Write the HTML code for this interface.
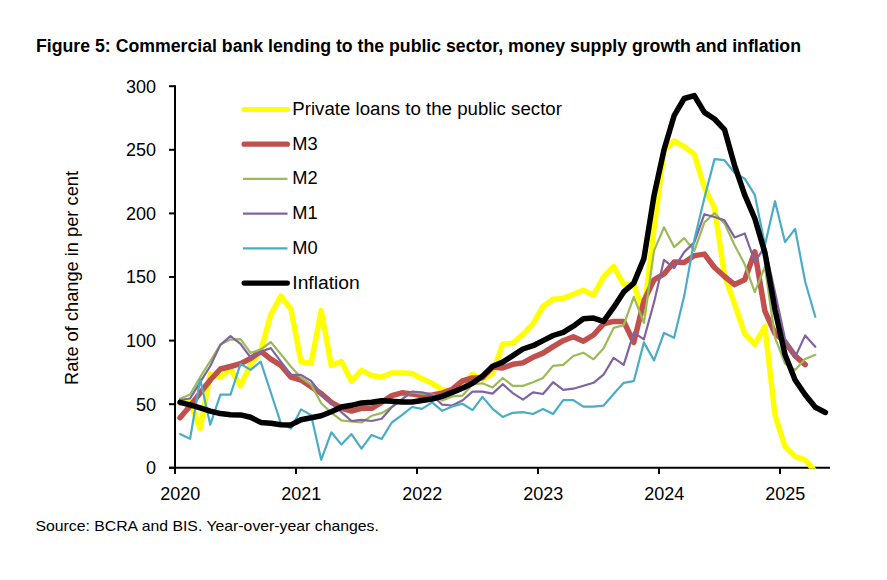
<!DOCTYPE html>
<html><head><meta charset="utf-8"><style>
html,body{margin:0;padding:0;background:#fff;}
body{width:887px;height:580px;overflow:hidden;position:relative;font-family:"Liberation Sans",sans-serif;}
svg{position:absolute;left:0;top:0;}
.tk{font-size:18px;fill:#000;}
.lg{font-size:18px;fill:#000;}
.ti{font-size:17.5px;font-weight:bold;fill:#000;}
.src{font-size:15px;fill:#000;}
.yt{font-size:17.5px;fill:#000;}
</style></head><body>
<svg width="887" height="580" viewBox="0 0 887 580">
<text x="36" y="51.6" class="ti" textLength="765" lengthAdjust="spacingAndGlyphs">Figure 5: Commercial bank lending to the public sector, money supply growth and inflation</text>
<text x="35.4" y="531" class="src" textLength="343.5" lengthAdjust="spacingAndGlyphs">Source: BCRA and BIS. Year-over-year changes.</text>
<text transform="translate(77.8,385) rotate(-90)" x="0" y="0" class="yt" textLength="214" lengthAdjust="spacingAndGlyphs">Rate of change in per cent</text>
<line x1="175" y1="85.2" x2="175" y2="468.8" stroke="#000" stroke-width="2"/>
<line x1="169" y1="467.8" x2="830" y2="467.8" stroke="#000" stroke-width="2"/>
<line x1="169" y1="467.8" x2="175" y2="467.8" stroke="#000" stroke-width="2"/><text x="156" y="474.1" text-anchor="end" class="tk">0</text><line x1="169" y1="404.2" x2="175" y2="404.2" stroke="#000" stroke-width="2"/><text x="156" y="410.5" text-anchor="end" class="tk">50</text><line x1="169" y1="340.6" x2="175" y2="340.6" stroke="#000" stroke-width="2"/><text x="156" y="346.9" text-anchor="end" class="tk">100</text><line x1="169" y1="277.0" x2="175" y2="277.0" stroke="#000" stroke-width="2"/><text x="156" y="283.3" text-anchor="end" class="tk">150</text><line x1="169" y1="213.4" x2="175" y2="213.4" stroke="#000" stroke-width="2"/><text x="156" y="219.7" text-anchor="end" class="tk">200</text><line x1="169" y1="149.8" x2="175" y2="149.8" stroke="#000" stroke-width="2"/><text x="156" y="156.1" text-anchor="end" class="tk">250</text><line x1="169" y1="86.2" x2="175" y2="86.2" stroke="#000" stroke-width="2"/><text x="156" y="92.5" text-anchor="end" class="tk">300</text>
<line x1="175.0" y1="467.8" x2="175.0" y2="474" stroke="#000" stroke-width="2"/><text x="180.2" y="500" text-anchor="middle" class="tk">2020</text><line x1="296.0" y1="467.8" x2="296.0" y2="474" stroke="#000" stroke-width="2"/><text x="301.2" y="500" text-anchor="middle" class="tk">2021</text><line x1="417.0" y1="467.8" x2="417.0" y2="474" stroke="#000" stroke-width="2"/><text x="422.2" y="500" text-anchor="middle" class="tk">2022</text><line x1="538.0" y1="467.8" x2="538.0" y2="474" stroke="#000" stroke-width="2"/><text x="543.2" y="500" text-anchor="middle" class="tk">2023</text><line x1="659.0" y1="467.8" x2="659.0" y2="474" stroke="#000" stroke-width="2"/><text x="664.2" y="500" text-anchor="middle" class="tk">2024</text><line x1="780.0" y1="467.8" x2="780.0" y2="474" stroke="#000" stroke-width="2"/><text x="785.2" y="500" text-anchor="middle" class="tk">2025</text>
<defs><clipPath id="pa"><rect x="176" y="60" width="700" height="408.8"/></clipPath></defs>
<g clip-path="url(#pa)">
<path d="M180.0,403.4 L190.1,401.9 L200.2,428.4 L210.3,374.1 L220.4,377.1 L230.5,369.0 L240.5,385.9 L250.6,364.6 L260.7,351.2 L270.8,314.5 L280.9,296.2 L291.0,309.3 L301.0,361.8 L311.1,363.4 L321.2,310.6 L331.3,365.4 L341.4,361.6 L351.5,381.3 L361.5,370.4 L371.6,375.5 L381.7,377.0 L391.8,373.0 L401.9,372.9 L412.0,373.4 L422.0,378.8 L432.1,383.2 L442.2,389.8 L452.3,390.8 L462.4,385.1 L472.5,374.4 L482.5,379.3 L492.6,373.5 L502.7,344.2 L512.8,343.3 L522.9,334.4 L533.0,323.8 L543.0,306.5 L553.1,299.3 L563.2,298.4 L573.3,294.3 L583.4,290.2 L593.5,295.2 L603.5,277.1 L613.6,266.4 L623.7,284.5 L633.8,284.5 L643.9,313.1 L654.0,228.7 L664.0,150.8 L674.1,141.0 L684.2,146.7 L694.3,154.1 L704.4,187.5 L714.5,207.9 L724.5,275.0 L734.6,304.2 L744.7,333.7 L754.8,344.4 L764.9,326.5 L775.0,415.0 L785.0,446.6 L795.1,456.6 L805.2,459.9 L815.3,471.6" stroke="#FFFF00" stroke-width="5.5" fill="none" stroke-linejoin="round" stroke-linecap="round"/>
<path d="M180.0,417.8 L190.1,406.0 L200.2,392.8 L210.3,380.0 L220.4,369.0 L230.5,366.5 L240.5,363.6 L250.6,358.5 L260.7,351.2 L270.8,359.2 L280.9,365.4 L291.0,377.1 L301.0,380.0 L311.1,386.8 L321.2,393.5 L331.3,402.3 L341.4,408.0 L351.5,411.1 L361.5,408.3 L371.6,408.3 L381.7,402.3 L391.8,395.6 L401.9,392.8 L412.0,393.9 L422.0,395.7 L432.1,394.9 L442.2,393.1 L452.3,389.2 L462.4,381.0 L472.5,378.0 L482.5,377.7 L492.6,367.1 L502.7,367.9 L512.8,364.3 L522.9,362.9 L533.0,357.3 L543.0,353.1 L553.1,346.6 L563.2,340.7 L573.3,336.8 L583.4,341.2 L593.5,335.0 L603.5,323.8 L613.6,321.4 L623.7,321.4 L633.8,342.4 L643.9,300.9 L654.0,279.8 L664.0,273.9 L674.1,261.9 L684.2,262.6 L694.3,255.6 L704.4,254.1 L714.5,267.5 L724.5,276.5 L734.6,284.6 L744.7,279.8 L754.8,251.8 L764.9,311.1 L775.0,333.5 L785.0,341.9 L795.1,355.9 L805.2,364.6" stroke="#C0504D" stroke-width="5.5" fill="none" stroke-linejoin="round" stroke-linecap="round"/>
<path d="M180.0,398.7 L190.1,394.5 L200.2,377.1 L210.3,361.0 L220.4,344.5 L230.5,339.6 L240.5,339.1 L250.6,352.8 L260.7,349.6 L270.8,342.0 L280.9,354.3 L291.0,366.8 L301.0,377.5 L311.1,384.7 L321.2,403.3 L331.3,412.6 L341.4,420.4 L351.5,421.5 L361.5,422.5 L371.6,415.8 L381.7,413.1 L391.8,407.0 L401.9,398.9 L412.0,392.2 L422.0,394.0 L432.1,394.0 L442.2,400.5 L452.3,396.4 L462.4,395.7 L472.5,384.2 L482.5,383.3 L492.6,387.5 L502.7,378.0 L512.8,385.9 L522.9,385.9 L533.0,382.2 L543.0,377.9 L553.1,365.8 L563.2,364.8 L573.3,356.0 L583.4,352.7 L593.5,359.3 L603.5,348.5 L613.6,327.9 L623.7,325.1 L633.8,296.8 L643.9,322.9 L654.0,250.9 L664.0,227.3 L674.1,247.1 L684.2,238.1 L694.3,250.9 L704.4,222.4 L714.5,213.1 L724.5,223.4 L734.6,245.2 L744.7,264.3 L754.8,292.1 L764.9,266.7 L775.0,337.7 L785.0,363.5 L795.1,369.9 L805.2,358.9 L815.3,354.8" stroke="#9BBB59" stroke-width="2.2" fill="none" stroke-linejoin="round" stroke-linecap="round"/>
<path d="M180.0,400.0 L190.1,398.5 L200.2,382.2 L210.3,366.0 L220.4,344.9 L230.5,336.1 L240.5,343.8 L250.6,357.5 L260.7,351.8 L270.8,348.1 L280.9,361.7 L291.0,374.9 L301.0,374.9 L311.1,381.0 L321.2,394.0 L331.3,403.3 L341.4,412.2 L351.5,421.0 L361.5,419.8 L371.6,421.0 L381.7,418.8 L391.8,407.0 L401.9,399.6 L412.0,391.5 L422.0,392.4 L432.1,394.9 L442.2,404.7 L452.3,405.5 L462.4,400.5 L472.5,391.6 L482.5,391.6 L492.6,393.6 L502.7,384.2 L512.8,393.1 L522.9,399.7 L533.0,392.4 L543.0,394.0 L553.1,382.2 L563.2,389.8 L573.3,388.7 L583.4,385.8 L593.5,382.8 L603.5,374.7 L613.6,357.9 L623.7,364.8 L633.8,332.7 L643.9,339.3 L654.0,302.4 L664.0,259.8 L674.1,268.1 L684.2,252.1 L694.3,242.3 L704.4,214.2 L714.5,217.0 L724.5,220.4 L734.6,237.4 L744.7,233.4 L754.8,261.7 L764.9,246.9 L775.0,292.3 L785.0,338.7 L795.1,357.1 L805.2,335.4 L815.3,346.8" stroke="#8064A2" stroke-width="2.2" fill="none" stroke-linejoin="round" stroke-linecap="round"/>
<path d="M180.0,434.1 L190.1,438.8 L200.2,379.3 L210.3,424.7 L220.4,394.7 L230.5,394.7 L240.5,363.9 L250.6,369.9 L260.7,361.7 L270.8,392.5 L280.9,423.3 L291.0,428.4 L301.0,409.4 L311.1,415.1 L321.2,459.8 L331.3,432.3 L341.4,444.6 L351.5,434.1 L361.5,448.7 L371.6,434.9 L381.7,438.9 L391.8,422.5 L401.9,415.1 L412.0,407.0 L422.0,408.8 L432.1,402.3 L442.2,410.8 L452.3,406.4 L462.4,403.8 L472.5,410.1 L482.5,396.9 L492.6,408.8 L502.7,416.9 L512.8,412.8 L522.9,412.1 L533.0,414.0 L543.0,409.0 L553.1,414.0 L563.2,400.1 L573.3,400.1 L583.4,406.7 L593.5,406.7 L603.5,405.7 L613.6,394.0 L623.7,382.8 L633.8,381.2 L643.9,342.4 L654.0,360.4 L664.0,333.0 L674.1,337.8 L684.2,296.1 L694.3,240.1 L704.4,198.1 L714.5,159.1 L724.5,160.2 L734.6,172.7 L744.7,178.7 L754.8,194.8 L764.9,245.2 L775.0,201.2 L785.0,242.1 L795.1,228.8 L805.2,281.8 L815.3,316.8" stroke="#4BACC6" stroke-width="2.2" fill="none" stroke-linejoin="round" stroke-linecap="round"/>
<path d="M180.0,402.3 L190.1,404.8 L200.2,407.8 L210.3,411.1 L220.4,413.6 L230.5,414.8 L240.5,414.9 L250.6,417.3 L260.7,422.4 L270.8,423.3 L280.9,424.7 L291.0,424.9 L301.0,419.8 L311.1,417.8 L321.2,415.8 L331.3,411.7 L341.4,407.0 L351.5,405.3 L361.5,402.9 L371.6,402.3 L381.7,400.8 L391.8,401.3 L401.9,402.0 L412.0,402.0 L422.0,400.5 L432.1,399.0 L442.2,396.4 L452.3,392.4 L462.4,388.3 L472.5,383.3 L482.5,376.1 L492.6,366.2 L502.7,362.1 L512.8,355.6 L522.9,349.0 L533.0,345.7 L543.0,340.6 L553.1,335.5 L563.2,332.3 L573.3,326.2 L583.4,318.8 L593.5,318.1 L603.5,321.4 L613.6,307.4 L623.7,291.9 L633.8,283.1 L643.9,258.6 L654.0,195.6 L664.0,149.8 L674.1,115.7 L684.2,98.5 L694.3,95.6 L704.4,112.4 L714.5,119.0 L724.5,129.6 L734.6,165.6 L744.7,194.8 L754.8,218.5 L764.9,252.6 L775.0,309.8 L785.0,354.6 L795.1,380.0 L805.2,394.7 L815.3,407.3 L825.4,412.5" stroke="#000000" stroke-width="5.5" fill="none" stroke-linejoin="round" stroke-linecap="round"/>
</g>
<line x1="244.1" y1="109.5" x2="287.4" y2="109.5" stroke="#FFFF00" stroke-width="5.2" stroke-linecap="round"/><text x="292.3" y="114.9" class="lg" textLength="269.6" lengthAdjust="spacingAndGlyphs">Private loans to the public sector</text><line x1="244.1" y1="144.2" x2="287.4" y2="144.2" stroke="#C0504D" stroke-width="5.2" stroke-linecap="round"/><text x="292.3" y="149.6" class="lg" textLength="25.4" lengthAdjust="spacingAndGlyphs">M3</text><line x1="243" y1="178.9" x2="287.5" y2="178.9" stroke="#9BBB59" stroke-width="2.2" stroke-linecap="butt"/><text x="292.3" y="184.3" class="lg" textLength="25.4" lengthAdjust="spacingAndGlyphs">M2</text><line x1="243" y1="213.7" x2="287.5" y2="213.7" stroke="#8064A2" stroke-width="2.2" stroke-linecap="butt"/><text x="292.3" y="219.1" class="lg" textLength="25.4" lengthAdjust="spacingAndGlyphs">M1</text><line x1="243" y1="248.4" x2="287.5" y2="248.4" stroke="#4BACC6" stroke-width="2.2" stroke-linecap="butt"/><text x="292.3" y="253.8" class="lg" textLength="25.4" lengthAdjust="spacingAndGlyphs">M0</text><line x1="244.1" y1="283.1" x2="287.4" y2="283.1" stroke="#000000" stroke-width="5.2" stroke-linecap="round"/><text x="292.3" y="288.5" class="lg" textLength="67.5" lengthAdjust="spacingAndGlyphs">Inflation</text>
</svg>
</body></html>
